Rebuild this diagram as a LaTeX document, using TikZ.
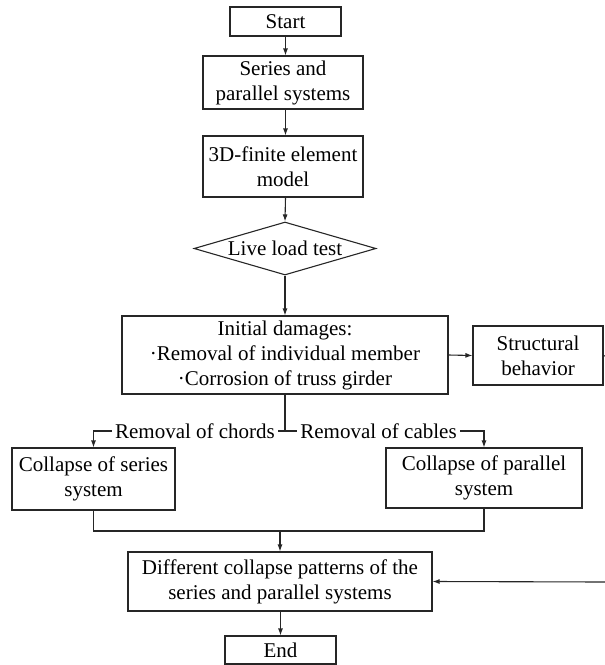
\documentclass[tikz,border=0pt]{standalone}
\usepackage{fontspec}
\setmainfont{Liberation Serif}
\usetikzlibrary{shapes.geometric,arrows.meta}
\tikzset{
	flowbox/.style={draw=black!85, line width=1.1pt, inner sep=0pt, align=center, font=\fontsize{21}{25}\selectfont},
	flowline/.style={draw=black!85, line width=1.1pt},
	flowarrow/.style={flowline, -{Latex[length=7pt,width=5pt]}},
	linelabel/.style={fill=white, inner xsep=3pt, inner ysep=1pt, font=\fontsize{21}{25}\selectfont}
}

\begin{document}
\begin{tikzpicture}[x=1pt,y=-1pt]
			%%%%% START %%%%%
			\useasboundingbox (0,0) rectangle (605,665);
			
			\node[flowbox, minimum width=111pt, minimum height=29pt] (start) at (285.5,21.5) {Start};
			\node[flowbox, minimum width=160pt, minimum height=53pt] (series) at (283,82.5) {Series and\\parallel systems};
			\node[flowbox, minimum width=160pt, minimum height=61pt] (fem) at (283,166.5) {3D-finite element\\model};
			\node[flowbox, shape=diamond, aspect=3.43, minimum width=182pt, minimum height=53pt] (live) at (285,248.5) {Live load test};
			
			\node[flowbox, minimum width=326pt, minimum height=78pt] (init) at (285,355) {Initial damages:\\·Removal of individual member\\·Corrosion of truss girder};
			\node[flowbox, minimum width=130pt, minimum height=59pt] (struct) at (538,355.5) {Structural\\behavior};
			
			\node[flowbox, minimum width=163pt, minimum height=62pt] (cseries) at (93.5,479) {Collapse of series\\system};
			\node[flowbox, minimum width=196pt, minimum height=60pt] (cpar) at (484,478) {Collapse of parallel\\system};
			
			\node[flowbox, minimum width=304pt, minimum height=59pt] (diff) at (280,581.5) {Different collapse patterns of the\\series and parallel systems};
			\node[flowbox, minimum width=111pt, minimum height=28pt] (end) at (280.5,650) {End};
			
			\coordinate (split) at (285,431);
			\coordinate (merge) at (280,531);
			\coordinate (edgeA) at (605,356);
			\coordinate (edgeB) at (605,582);
			
			\draw[flowarrow] (start.south) -- (start.south |- series.north);
			\draw[flowarrow] (start.south |- series.south) -- (start.south |- fem.north);
			\draw[flowarrow] (start.south |- fem.south) -- (live.north);
			\draw[flowarrow] (live.south) -- (init.north);
			\draw[flowarrow] (init.east) -- (struct.west);
			\draw[flowline] (struct.east) -- (edgeA);
			
			\draw[flowline] (init.south) -- (split);
			\draw[flowarrow] (split) -- (cseries.north |- split) node[linelabel, pos=0.47] (chords) {Removal of chords} -- (cseries.north);
			\draw[flowarrow] (split) -- (cpar.north |- split) node[linelabel, pos=0.47] (cables) {Removal of cables} -- (cpar.north);
			
			\draw[flowline] (cseries.south) |- (cpar.south |- merge) -- (cpar.south);
			\draw[flowarrow] (merge) -- (diff.north);
			\draw[flowarrow] (edgeB) -- (diff.east);
			\draw[flowarrow] (diff.south -| end.north) -- (end.north);
			
			%%%%% END %%%%%
\end{tikzpicture}
\end{document}
